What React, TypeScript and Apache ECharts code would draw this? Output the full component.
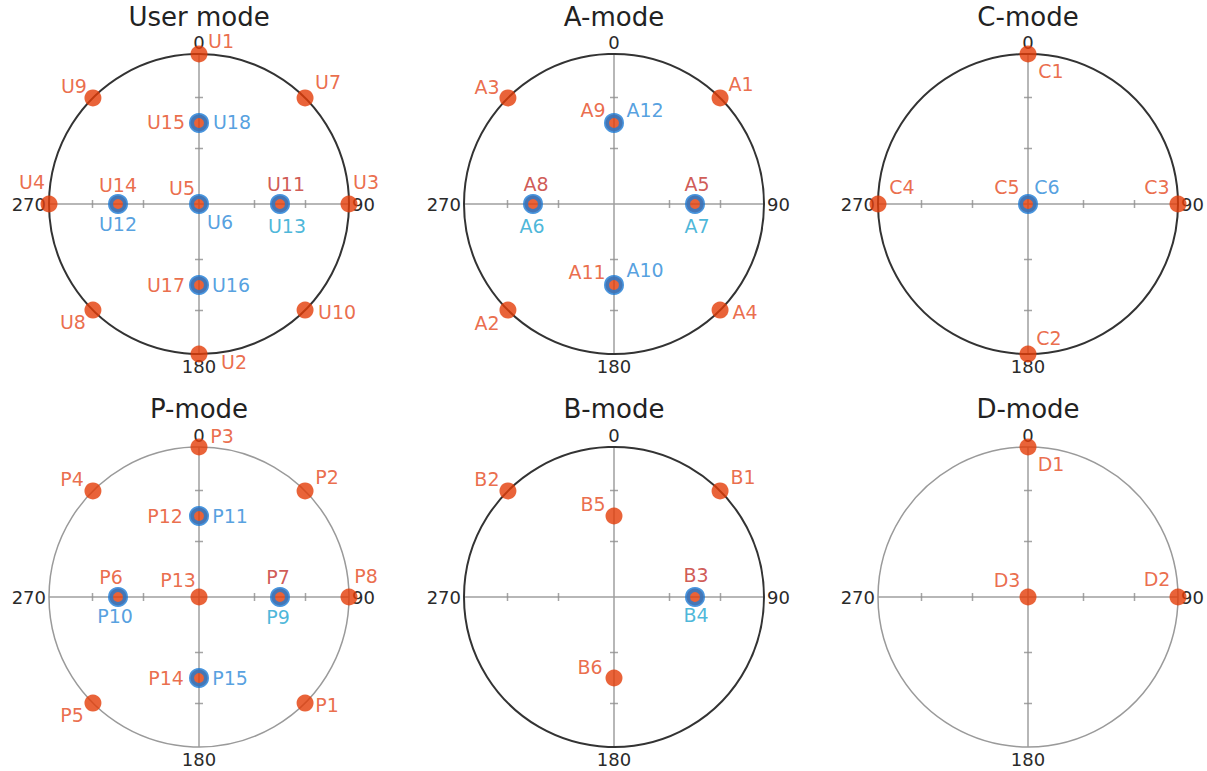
import React, { useEffect, useRef } from 'react';
import * as echarts from 'echarts';

// [name, radius (fraction of outer circle), angle (deg, clockwise from top)]
type Pt = [string, number, number];

const modeTitles = ['User mode', 'A-mode', 'C-mode', 'P-mode', 'B-mode', 'D-mode'];
const angleTickValues = [0, 90, 180, 270];
const radialTicks = [0.37, 0.71];

const userOrange: Pt[] = [
  ['U1', 1, 0], ['U2', 1, 180], ['U3', 1, 90], ['U4', 1, 270], ['U5', 0, 0],
  ['U7', 1, 45], ['U8', 1, 225], ['U9', 1, 315], ['U10', 1, 135],
  ['U11', 0.54, 90], ['U14', 0.54, 270], ['U15', 0.54, 0], ['U17', 0.54, 180],
];
const userBlue: Pt[] = [
  ['U6', 0, 0], ['U12', 0.54, 270], ['U13', 0.54, 90], ['U16', 0.54, 180], ['U18', 0.54, 0],
];
const aOrange: Pt[] = [
  ['A1', 1, 45], ['A2', 1, 225], ['A3', 1, 315], ['A4', 1, 135],
  ['A5', 0.54, 90], ['A8', 0.54, 270], ['A9', 0.54, 0], ['A11', 0.54, 180],
];
const aBlue: Pt[] = [['A6', 0.54, 270], ['A7', 0.54, 90], ['A10', 0.54, 180], ['A12', 0.54, 0]];
const cOrange: Pt[] = [['C1', 1, 0], ['C2', 1, 180], ['C3', 1, 90], ['C4', 1, 270], ['C5', 0, 0]];
const cBlue: Pt[] = [['C6', 0, 0]];
const pOrange: Pt[] = [
  ['P1', 1, 135], ['P2', 1, 45], ['P3', 1, 0], ['P4', 1, 315], ['P5', 1, 225],
  ['P6', 0.54, 270], ['P7', 0.54, 90], ['P8', 1, 90], ['P12', 0.54, 0], ['P13', 0, 0], ['P14', 0.54, 180],
];
const pBlue: Pt[] = [['P9', 0.54, 90], ['P10', 0.54, 270], ['P11', 0.54, 0], ['P15', 0.54, 180]];
const bOrange: Pt[] = [['B1', 1, 45], ['B2', 1, 315], ['B3', 0.54, 90], ['B5', 0.54, 0], ['B6', 0.54, 180]];
const bBlue: Pt[] = [['B4', 0.54, 90]];
const dOrange: Pt[] = [['D1', 1, 0], ['D2', 1, 90], ['D3', 0, 0]];
const dBlue: Pt[] = [];

// label placement (pixel offsets from the marker centre) — layout only
const labelOffsets: Record<string, [number, number]> = {
  U1: [22, -13], U2: [35, 8], U3: [17, -22], U4: [-17, -22], U5: [-17, -16], U6: [21, 18],
  U7: [23, -16], U8: [-20, 12], U9: [-19, -12], U10: [32, 2], U11: [6, -20], U13: [7, 22],
  U14: [0, -19], U12: [0, 20], U15: [-33, -1], U18: [33, -1], U17: [-33, 0], U16: [32, 0],
  A1: [21, -14], A2: [-21, 13], A3: [-21, -11], A4: [25, 2], A5: [2, -20], A7: [2, 22],
  A8: [3, -20], A6: [-1, 22], A9: [-21, -13], A12: [31, -13], A11: [-27, -13], A10: [31, -15],
  C1: [23, 17], C2: [21, -16], C3: [-21, -17], C4: [24, -17], C5: [-21, -17], C6: [19, -17],
  P1: [22, 2], P2: [22, -14], P3: [23, -11], P4: [-21, -12], P5: [-21, 12], P6: [-7, -20],
  P10: [-3, 19], P7: [-2, -20], P9: [-2, 20], P8: [17, -21], P11: [31, 0], P12: [-34, 0],
  P13: [-21, -17], P14: [-33, 0], P15: [31, 0],
  B1: [23, -14], B2: [-21, -12], B3: [1, -22], B4: [1, 18], B5: [-21, -12], B6: [-24, -11],
  D1: [23, 17], D2: [-21, -18], D3: [-21, -17],
};

const darkRedLabels = ['U11', 'A5', 'A8', 'P7', 'B3'];
const cyanLabels = ['U13', 'A6', 'A7', 'P9', 'B4'];

const FONT = '"DejaVu Sans", "Liberation Sans", Arial, sans-serif';
const ORANGE = '#E33C08';
const ORANGE_LABEL = '#E5481C';
const DARK_RED_LABEL = '#C4302A';
const BLUE = '#1A7AD6';
const BLUE_LABEL = '#2A88D8';
const CYAN_LABEL = '#1DA5D0';

const panels = [
  { orange: userOrange, blue: userBlue, cx: 199, cy: 204, dark: true },
  { orange: aOrange, blue: aBlue, cx: 614, cy: 204, dark: true },
  { orange: cOrange, blue: cBlue, cx: 1028, cy: 204, dark: true },
  { orange: pOrange, blue: pBlue, cx: 199, cy: 597, dark: false },
  { orange: bOrange, blue: bBlue, cx: 614, cy: 597, dark: true },
  { orange: dOrange, blue: dBlue, cx: 1028, cy: 597, dark: false },
];

function labelColor(name: string, isBlue: boolean) {
  if (darkRedLabels.includes(name)) return DARK_RED_LABEL;
  if (cyanLabels.includes(name)) return CYAN_LABEL;
  return isBlue ? BLUE_LABEL : ORANGE_LABEL;
}

function buildOption() {
  const polar: any[] = [];
  const angleAxis: any[] = [];
  const radiusAxis: any[] = [];
  const series: any[] = [];
  const title: any[] = [];

  panels.forEach((p, i) => {
    polar.push({ center: [p.cx, p.cy], radius: 150 });
    title.push({
      text: modeTitles[i],
      left: p.cx,
      top: i < 3 ? 4 : 396,
      textAlign: 'center',
      padding: 0,
      textStyle: { fontFamily: FONT, fontSize: 26, fontWeight: 'normal', color: '#222', lineHeight: 26 },
    });
    angleAxis.push({
      polarIndex: i,
      type: 'value',
      min: 0,
      max: 360,
      interval: 90,
      startAngle: 90,
      clockwise: true,
      axisLine: { show: true, lineStyle: { color: p.dark ? '#333' : '#9a9a9a', width: p.dark ? 2 : 1.5 } },
      axisTick: { show: false },
      axisLabel: {
        show: true,
        margin: 3,
        color: '#2a2a2a',
        fontSize: 18,
        fontFamily: FONT,
        formatter: (v: number) => (angleTickValues.includes(v) ? String(v) : ''),
      },
      splitLine: { show: true, lineStyle: { color: '#a0a0a0', width: 1.5 } },
    });
    radiusAxis.push({
      polarIndex: i,
      type: 'value',
      min: 0,
      max: 1,
      axisLine: { show: false },
      axisTick: { show: false },
      axisLabel: { show: false },
      splitLine: { show: false },
    });
    // tick marks crossing the vertical and horizontal axes
    series.push({
      type: 'scatter',
      coordinateSystem: 'polar',
      polarIndex: i,
      symbol: 'rect',
      symbolSize: [8, 1.5],
      silent: true,
      clip: false,
      z: 1,
      itemStyle: { color: '#8f8f8f' },
      data: radialTicks.flatMap((r) => [[r, 0], [r, 180]]),
    });
    series.push({
      type: 'scatter',
      coordinateSystem: 'polar',
      polarIndex: i,
      symbol: 'rect',
      symbolSize: [1.5, 8],
      silent: true,
      clip: false,
      z: 1,
      itemStyle: { color: '#8f8f8f' },
      data: radialTicks.flatMap((r) => [[r, 90], [r, 270]]),
    });
    const labelBase = {
      show: true,
      position: 'inside',
      formatter: '{b}',
      fontSize: 19,
      fontFamily: FONT,
      align: 'center',
      verticalAlign: 'middle',
    };
    series.push({
      type: 'scatter',
      coordinateSystem: 'polar',
      polarIndex: i,
      symbol: 'circle',
      symbolSize: 17,
      clip: false,
      z: 3,
      itemStyle: { color: ORANGE },
      label: labelBase,
      data: p.orange.map(([n, r, a]) => ({
        name: n,
        value: [r, a],
        label: { offset: labelOffsets[n] || [0, 0], color: labelColor(n, false) },
      })),
    });
    if (p.blue.length) {
      series.push({
        type: 'scatter',
        coordinateSystem: 'polar',
        polarIndex: i,
        symbol: 'circle',
        symbolSize: 15,
        clip: false,
        z: 4,
        itemStyle: { color: 'rgba(0,0,0,0)', borderColor: BLUE, borderWidth: 5 },
        label: labelBase,
        data: p.blue.map(([n, r, a]) => ({
          name: n,
          value: [r, a],
          label: { offset: labelOffsets[n] || [0, 0], color: labelColor(n, true) },
        })),
      });
    }
  });

  return {
    animation: false,
    backgroundColor: '#ffffff',
    title,
    polar,
    angleAxis,
    radiusAxis,
    series,
  };
}

export default function App() {
  const ref = useRef<HTMLDivElement>(null);
  useEffect(() => {
    if (!ref.current) return;
    const chart = echarts.init(ref.current, undefined, { renderer: 'svg' });
    chart.setOption(buildOption() as any);
    return () => chart.dispose();
  }, []);
  return (
    <div
      ref={ref}
      style={{ position: 'fixed', left: 0, top: 0, width: 1207, height: 771, background: '#fff' }}
    />
  );
}
